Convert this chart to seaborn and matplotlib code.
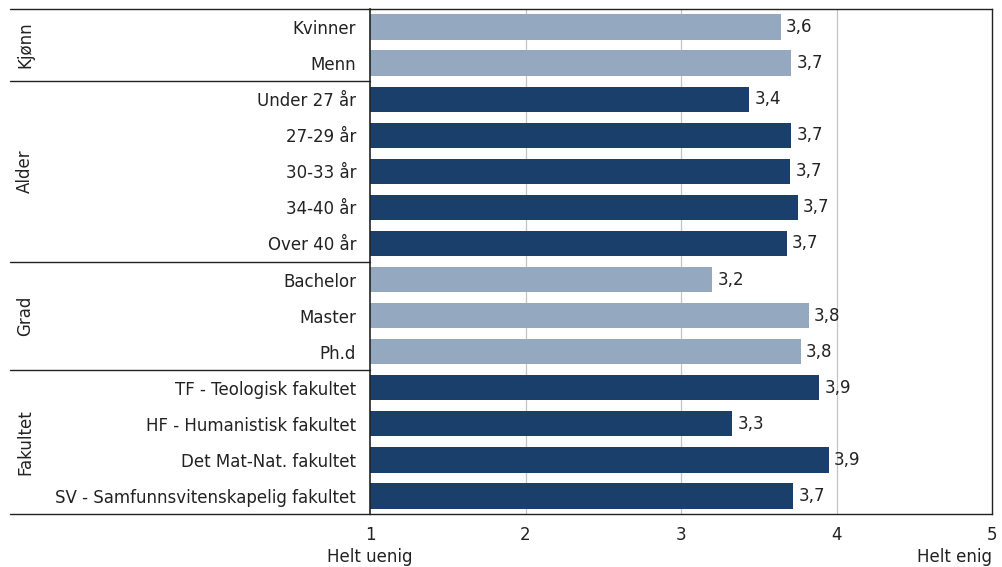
import matplotlib
matplotlib.use("Agg")
import matplotlib.pyplot as plt
import matplotlib.transforms as mtransforms
import seaborn as sns
import pandas as pd

categories = ["Kvinner", "Menn", "Under 27 år", "27-29 år", "30-33 år", "34-40 år",
              "Over 40 år", "Bachelor", "Master", "Ph.d", "TF - Teologisk fakultet",
              "HF - Humanistisk fakultet", "Det Mat-Nat. fakultet",
              "SV - Samfunnsvitenskapelig fakultet"]
values = [3.64, 3.71, 3.44, 3.71, 3.70, 3.75, 3.68, 3.20, 3.82, 3.77, 3.89, 3.33, 3.95, 3.72]
value_labels = ["3,6", "3,7", "3,4", "3,7", "3,7", "3,7", "3,7", "3,2", "3,8", "3,8",
                "3,9", "3,3", "3,9", "3,7"]
groups = ["Kjønn", "Kjønn", "Alder", "Alder", "Alder", "Alder", "Alder",
          "Grad", "Grad", "Grad", "Fakultet", "Fakultet", "Fakultet", "Fakultet"]
group_names = ["Kjønn", "Alder", "Grad", "Fakultet"]
group_colors = {"Kjønn": "#94A8BF", "Alder": "#1A3F6A", "Grad": "#94A8BF", "Fakultet": "#1A3F6A"}
xticks = [1, 2, 3, 4, 5]

df = pd.DataFrame({"cat": categories, "val": values, "grp": groups})

sns.set_style("white")
plt.rcParams["font.family"] = ["DejaVu Sans"]
fs = 12
tc = "#222222"

fig = plt.figure(figsize=(10.02, 5.67), dpi=100)
ax = fig.add_axes([370 / 1002, 1 - 514 / 567, 622 / 1002, 505 / 567])

sns.barplot(data=df, y="cat", x="val", hue="grp", palette=group_colors, dodge=False,
            legend=False, width=0.7, ax=ax, orient="h", saturation=1, linewidth=0)

ax.set_xlim(1, 5)
ax.set_ylim(len(categories) - 0.5, -0.5)
ax.set_xticks(xticks)
ax.set_xticklabels([str(t) for t in xticks], fontsize=fs, color=tc)
ax.tick_params(axis="x", length=0, pad=9)
ax.tick_params(axis="y", length=0, pad=10, labelsize=fs, labelcolor=tc)
ax.set_xlabel("")
ax.set_ylabel("")
for x in xticks[1:-1]:
    ax.axvline(x, color="#C4C4C4", lw=0.9, zorder=0)
for s in ["top", "right", "bottom"]:
    ax.spines[s].set_color(tc)
    ax.spines[s].set_linewidth(1.0)
ax.spines["left"].set_color(tc)
ax.spines["left"].set_linewidth(1.2)

for i, (v, lab) in enumerate(zip(values, value_labels)):
    ax.text(v + 0.035, i, lab, va="center", ha="left", fontsize=fs, color=tc)

# group structure
trans = mtransforms.blended_transform_factory(ax.transAxes, ax.transData)
x0 = (10 - 370) / 622
idx = 0
bounds = []
for g in group_names:
    n = groups.count(g)
    start, end = idx, idx + n - 1
    ax.text((25 - 370) / 622, (start + end) / 2, g, rotation=90, va="center", ha="center",
            fontsize=fs, color=tc, transform=trans)
    bounds.append(end + 0.5)
    idx += n
ax.plot([x0, 0], [-0.5, -0.5], color=tc, lw=1.0, transform=trans, clip_on=False)
for b in bounds:
    ax.plot([x0, 0], [b, b], color=tc, lw=1.0, transform=trans, clip_on=False)

ax.text(0, -0.086, "Helt uenig", transform=ax.transAxes, ha="center", va="center",
        fontsize=fs, color=tc)
ax.text(1, -0.086, "Helt enig", transform=ax.transAxes, ha="right", va="center",
        fontsize=fs, color=tc)

fig.savefig("out.png", dpi=100)
